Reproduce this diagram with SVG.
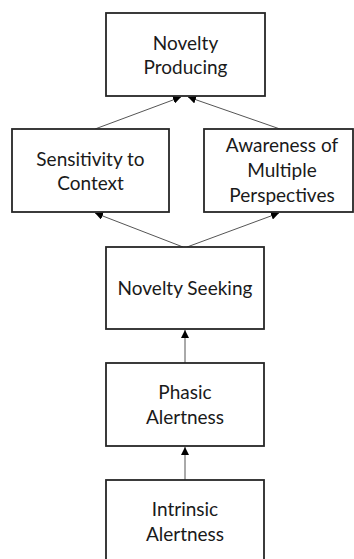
<svg xmlns="http://www.w3.org/2000/svg" width="354" height="559" viewBox="0 0 354 559">
  <defs>
    <style>
      .box { fill: #ffffff; stroke: #262626; stroke-width: 1.8; }
      .label { font-family: Lato, "Open Sans", "Liberation Sans", sans-serif; font-size: 19px; fill: #1a1a1a; text-anchor: middle; }
      .edge { stroke: #555555; stroke-width: 1; fill: none; marker-end: url(#head); }
    </style>
    <marker id="head" viewBox="0 0 10 10" refX="10" refY="5" markerWidth="8" markerHeight="8" markerUnits="userSpaceOnUse" orient="auto">
      <path d="M0,0 L10,5 L0,10 Z" fill="#000000"/>
    </marker>
  </defs>
  <rect width="354" height="559" fill="#ffffff"/>

  <g id="connectors">
    <line class="edge" x1="95" y1="129" x2="181" y2="97"/>
    <line class="edge" x1="280" y1="129" x2="188" y2="97"/>
    <line class="edge" x1="183" y1="247" x2="95" y2="213"/>
    <line class="edge" x1="187" y1="247" x2="279" y2="213"/>
    <line class="edge" x1="185" y1="363" x2="185" y2="330"/>
    <line class="edge" x1="185" y1="480" x2="185" y2="447"/>
  </g>

  <g id="novelty-producing">
    <rect class="box" x="106" y="13" width="159" height="83"/>
    <text class="label" x="185.5" y="50">Novelty</text>
    <text class="label" x="185.5" y="74">Producing</text>
  </g>

  <g id="sensitivity-to-context">
    <rect class="box" x="12" y="129" width="157" height="83"/>
    <text class="label" x="90.5" y="166">Sensitivity to</text>
    <text class="label" x="90.5" y="190">Context</text>
  </g>

  <g id="awareness-of-multiple-perspectives">
    <rect class="box" x="204" y="129" width="149" height="83"/>
    <text class="label" x="282" y="152">Awareness of</text>
    <text class="label" x="282" y="177">Multiple</text>
    <text class="label" x="282" y="202">Perspectives</text>
  </g>

  <g id="novelty-seeking">
    <rect class="box" x="106" y="247" width="158" height="82"/>
    <text class="label" x="185" y="295">Novelty Seeking</text>
  </g>

  <g id="phasic-alertness">
    <rect class="box" x="106" y="363" width="158" height="83"/>
    <text class="label" x="185" y="399">Phasic</text>
    <text class="label" x="185" y="424">Alertness</text>
  </g>

  <g id="intrinsic-alertness">
    <rect class="box" x="106" y="480" width="158" height="90"/>
    <text class="label" x="185" y="516">Intrinsic</text>
    <text class="label" x="185" y="541">Alertness</text>
  </g>
</svg>
